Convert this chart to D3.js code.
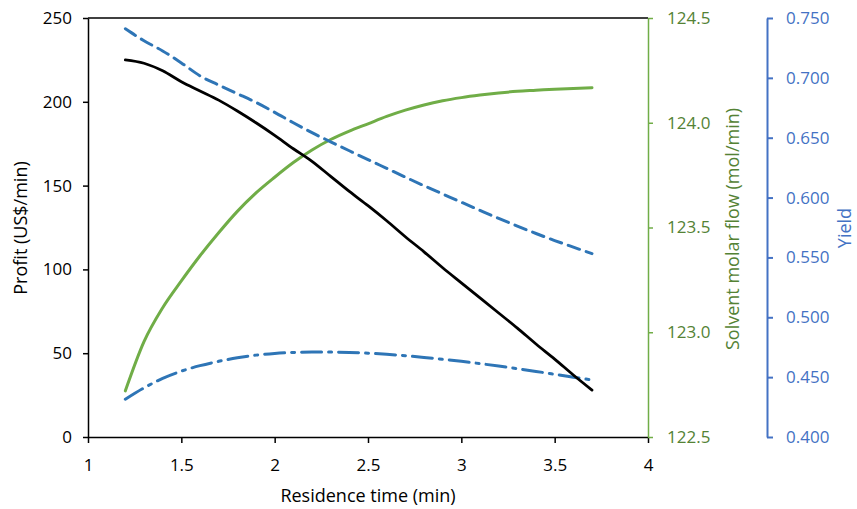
<!DOCTYPE html>
<html>
<head>
<meta charset="utf-8">
<script src="https://cdn.jsdelivr.net/npm/d3@7"></script>
<style>
	body { margin: 0; background: #fff; }
	svg text { font-family: "Open Sans", "Noto Sans", sans-serif; }
</style>
</head>
<body>
<svg id="chart" width="857" height="509"></svg>
<script>
// residence time (min)
var times = [1.2, 1.3, 1.4, 1.5, 1.6, 1.7, 1.8, 1.9, 2.0, 2.1, 2.2, 2.3, 2.4, 2.5,
	2.6, 2.7, 2.8, 2.9, 3.0, 3.1, 3.2, 3.3, 3.4, 3.5, 3.6, 3.7];
// profit (US$/min), black solid
var profit = [225, 223, 218.5, 212, 206.5, 201, 194.5, 187.5, 180, 172, 164.5, 155.5, 146.5, 138,
	129, 119.5, 110.5, 101, 92, 83, 74, 65, 55.5, 46.5, 37, 28];
// solvent molar flow (mol/min), green
var solvent = [122.72, 122.955, 123.117, 123.245, 123.365, 123.475, 123.577, 123.665, 123.74, 123.81,
	123.87, 123.92, 123.96, 123.995, 124.03, 124.06, 124.085, 124.105, 124.12, 124.132,
	124.142, 124.15, 124.155, 124.16, 124.164, 124.167];
// yield, blue dashed
var yieldDashed = [0.741, 0.731, 0.7225, 0.7125, 0.7017, 0.694, 0.6868, 0.6795, 0.6712, 0.6625,
	0.6542, 0.6466, 0.6391, 0.6317, 0.6244, 0.6171, 0.6099, 0.603, 0.5961, 0.5893,
	0.5826, 0.5762, 0.57, 0.5641, 0.5586, 0.5532];
// yield, blue dash-dot
var yieldDashDot = [0.4315, 0.441, 0.449, 0.455, 0.4596, 0.4632, 0.4662, 0.4684, 0.4698, 0.4706,
	0.4709, 0.4709, 0.4706, 0.47, 0.4691, 0.4679, 0.4665, 0.4649, 0.4632, 0.4613,
	0.4593, 0.4571, 0.4548, 0.4524, 0.45, 0.4476];

var xTicks = [1, 1.5, 2, 2.5, 3, 3.5, 4];
var profitTicks = [0, 50, 100, 150, 200, 250];
var solventTicks = [122.5, 123.0, 123.5, 124.0, 124.5];
var yieldTicks = [0.40, 0.45, 0.50, 0.55, 0.60, 0.65, 0.70, 0.75];

var svg = d3.select("#chart"),
	margin = {top: 18, left: 88, bottom: 72, right: 209},
	width = +svg.attr("width") - margin.left - margin.right,
	height = +svg.attr("height") - margin.top - margin.bottom;

var x = d3.scaleLinear().domain([1, 4]).range([margin.left, margin.left + width]);
var yProfit = d3.scaleLinear().domain([0, 250]).range([margin.top + height, margin.top]);
var ySolvent = d3.scaleLinear().domain([122.5, 124.5]).range([margin.top + height, margin.top]);
var yYield = d3.scaleLinear().domain([0.40, 0.75]).range([margin.top + height, margin.top]);

var green = "#70AD47", greenText = "#548235", blueLine = "#2E75B6", blueAxis = "#4472C4";

// top border
svg.append("line")
	.attr("x1", x(1)).attr("x2", x(4))
	.attr("y1", yProfit(250)).attr("y2", yProfit(250))
	.attr("stroke", "#000").attr("stroke-width", 1.5);

var xAxis = svg.append("g")
	.attr("transform", `translate(0,${margin.top + height})`)
	.call(d3.axisBottom(x).tickValues(xTicks).tickFormat(d3.format("")).tickSize(6).tickSizeOuter(0));

var yAxis = svg.append("g")
	.attr("transform", `translate(${margin.left},0)`)
	.call(d3.axisLeft(yProfit).tickValues(profitTicks).tickSize(5).tickSizeOuter(0));

var sAxis = svg.append("g")
	.attr("transform", `translate(${x(4)},0)`)
	.call(d3.axisRight(ySolvent).tickValues(solventTicks).tickFormat(d3.format(".1f")).tickSize(5).tickSizeOuter(0));

var yldAxis = svg.append("g")
	.attr("transform", "translate(767,0)")
	.call(d3.axisRight(yYield).tickValues(yieldTicks).tickFormat(d3.format(".3f")).tickSize(6).tickSizeOuter(0));

[xAxis, yAxis].forEach(function(g) {
	g.selectAll("path, line").attr("stroke", "#000").attr("stroke-width", 1.5);
	g.selectAll("text").attr("fill", "#000").style("font-size", "17px");
});
xAxis.selectAll("text").attr("y", 22).attr("dy", "0.71em");
yAxis.selectAll("text").attr("x", -16);

sAxis.selectAll("path, line").attr("stroke", green).attr("stroke-width", 1.5);
sAxis.selectAll("text").attr("fill", greenText).style("font-size", "17px").attr("x", 19);

yldAxis.selectAll("path, line").attr("stroke", blueAxis).attr("stroke-width", 2);
yldAxis.selectAll("text").attr("fill", blueAxis).style("font-size", "17px").attr("x", 19);

// series
var series = [
	{values: solvent, y: ySolvent, color: green, dash: null, w: 3},
	{values: yieldDashDot, y: yYield, color: blueLine, dash: "20,7,3,7", w: 3},
	{values: yieldDashed, y: yYield, color: blueLine, dash: "12,7", w: 3},
	{values: profit, y: yProfit, color: "#000", dash: null, w: 2.8}
];

series.forEach(function(s) {
	var line = d3.line()
		.x((d, i) => x(times[i]))
		.y(d => s.y(d))
		.curve(d3.curveMonotoneX);
	svg.append("path")
		.datum(s.values)
		.attr("fill", "none")
		.attr("stroke", s.color)
		.attr("stroke-width", s.w)
		.attr("stroke-dasharray", s.dash)
		.attr("stroke-linecap", "round")
		.attr("d", line);
});

// titles
svg.append("text")
	.attr("x", x(2.5)).attr("y", 502)
	.attr("text-anchor", "middle")
	.style("font-size", "18px")
	.text("Residence time (min)");

svg.append("text")
	.attr("transform", "translate(27,228) rotate(-90)")
	.attr("text-anchor", "middle")
	.style("font-size", "18px")
	.text("Profit (US$/min)");

svg.append("text")
	.attr("transform", "translate(739,229) rotate(-90)")
	.attr("text-anchor", "middle")
	.attr("fill", greenText)
	.style("font-size", "18px")
	.text("Solvent molar flow (mol/min)");

svg.append("text")
	.attr("transform", "translate(851,228) rotate(-90)")
	.attr("text-anchor", "middle")
	.attr("fill", blueAxis)
	.style("font-size", "18px")
	.text("Yield");
</script>
</body>
</html>
